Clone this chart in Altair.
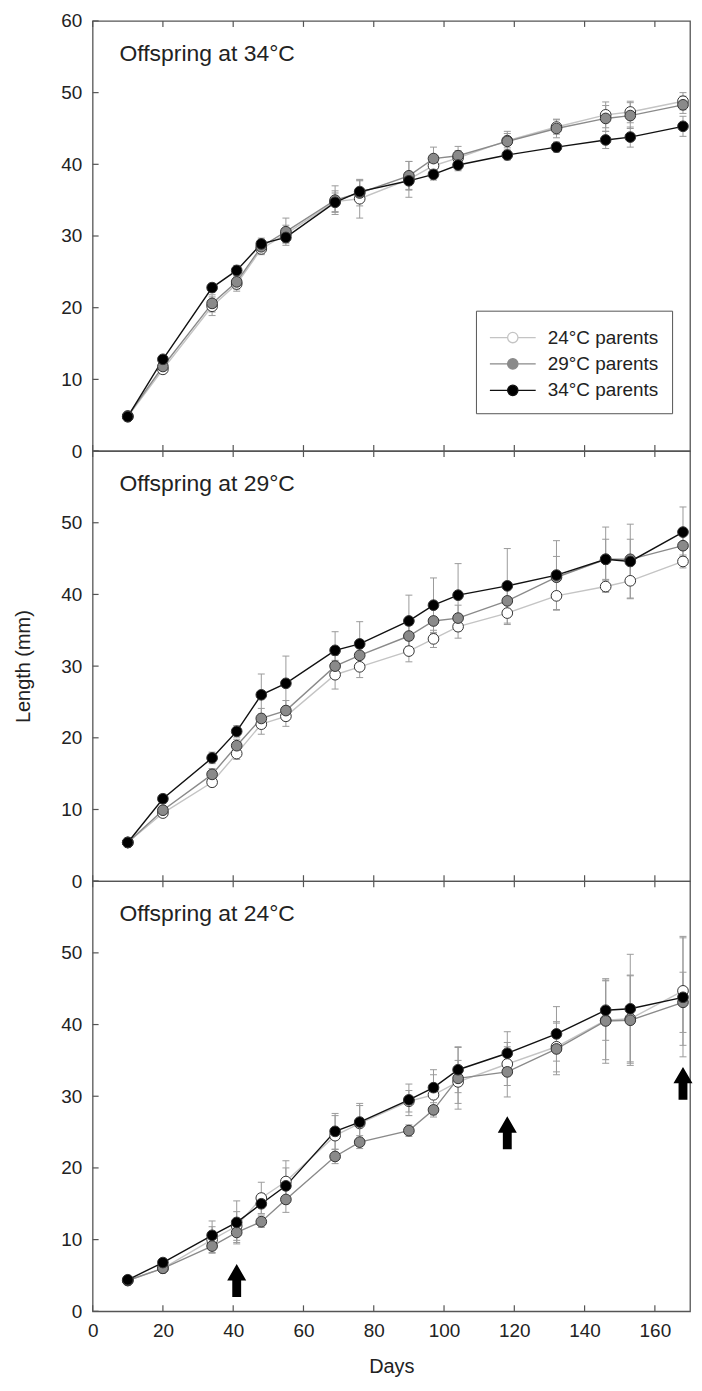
import altair as alt
import pandas as pd

# ---------------- data ----------------
days = [10, 20, 34, 41, 48, 55, 69, 76, 90, 97, 104, 118, 132, 146, 153, 168]
parents = ["24°C parents", "29°C parents", "34°C parents"]
panel_titles = ["Offspring at 34°C", "Offspring at 29°C", "Offspring at 24°C"]

# Offspring at 34°C
o34_p24 = [4.8, 11.4, 20.2, 23.3, 28.2, 30.3, 34.8, 35.2, 37.9, 39.8, 40.9, 43.3, 45.2, 46.9, 47.3, 48.8]
o34_p29 = [4.9, 11.8, 20.6, 23.6, 28.5, 30.6, 35.0, 36.0, 38.4, 40.8, 41.2, 43.2, 45.0, 46.4, 46.8, 48.3]
o34_p34 = [4.8, 12.8, 22.8, 25.2, 28.9, 29.8, 34.7, 36.2, 37.7, 38.6, 39.9, 41.3, 42.4, 43.4, 43.8, 45.3]
o34_se24 = [0.3, 0.5, 1.3, 1.0, 0.8, 1.2, 1.5, 2.7, 2.5, 1.2, 1.0, 1.0, 1.0, 1.8, 1.5, 1.2]
o34_se29 = [0.3, 0.5, 1.2, 1.0, 0.9, 1.9, 2.0, 1.8, 2.0, 1.6, 1.3, 1.4, 1.3, 1.8, 1.8, 1.2]
o34_se34 = [0.3, 0.5, 0.6, 0.7, 0.8, 0.8, 1.3, 1.5, 1.2, 0.8, 0.8, 0.7, 0.7, 1.2, 1.4, 1.4]

# Offspring at 29°C
o29_p24 = [5.4, 9.5, 13.8, 17.8, 21.9, 23.0, 28.8, 29.9, 32.1, 33.8, 35.5, 37.4, 39.8, 41.1, 41.9, 44.6]
o29_p29 = [5.4, 9.9, 14.9, 18.9, 22.7, 23.8, 30.0, 31.5, 34.2, 36.3, 36.7, 39.1, 42.4, 44.9, 44.9, 46.8]
o29_p34 = [5.4, 11.5, 17.2, 20.9, 26.0, 27.6, 32.2, 33.1, 36.3, 38.5, 39.9, 41.2, 42.7, 44.9, 44.6, 48.7]
o29_se24 = [0.3, 0.5, 0.6, 0.8, 1.4, 1.4, 2.0, 1.5, 1.5, 1.2, 1.6, 1.6, 2.0, 0.8, 2.4, 0.9]
o29_se29 = [0.3, 0.5, 0.8, 0.9, 1.4, 1.4, 1.5, 1.2, 1.5, 1.8, 1.8, 1.8, 2.9, 2.8, 2.8, 1.5]
o29_se34 = [0.3, 0.6, 0.8, 0.8, 2.9, 3.8, 2.6, 3.1, 3.6, 3.8, 4.4, 5.2, 4.8, 4.5, 5.2, 3.5]

# Offspring at 24°C
o24_p24 = [4.3, 6.0, 10.0, 11.9, 15.8, 18.1, 24.5, 26.2, 29.3, 30.2, 32.0, 34.5, 36.9, 40.6, 40.8, 44.7]
o24_p29 = [4.3, 6.0, 9.1, 11.0, 12.5, 15.6, 21.6, 23.6, 25.2, 28.1, 32.5, 33.4, 36.6, 40.5, 40.6, 43.1]
o24_p34 = [4.4, 6.8, 10.6, 12.4, 15.0, 17.5, 25.1, 26.4, 29.5, 31.2, 33.7, 36.0, 38.7, 42.0, 42.2, 43.8]
o24_se24 = [0.3, 0.4, 1.8, 2.0, 2.2, 2.9, 2.8, 2.5, 1.5, 2.8, 3.0, 3.0, 3.5, 5.5, 6.0, 7.6]
o24_se29 = [0.3, 0.4, 1.0, 1.4, 0.8, 1.8, 1.0, 0.9, 0.8, 1.0, 4.3, 3.5, 3.6, 5.9, 6.3, 4.2]
o24_se34 = [0.3, 0.4, 2.0, 3.0, 1.4, 2.5, 2.5, 2.6, 2.2, 2.5, 3.2, 3.0, 3.8, 4.2, 7.6, 8.3]

# arrows in the bottom panel (day, mid-height in mm)
arrow_days = [41, 118, 168]
arrow_mid = [4.3, 24.9, 31.8]

x_ticks = [0, 20, 40, 60, 80, 100, 120, 140, 160]
y_ticks = [0, 10, 20, 30, 40, 50, 60]

# ---------------- style ----------------
FONT = "Liberation Sans"
TEXT = "#222222"
FRAME = "#555555"
ERR = "#9a9a9a"
LINE_COLORS = ["#c4c4c4", "#8a8a8a", "#111111"]
FILL_COLORS = ["#ffffff", "#8a8a8a", "#000000"]
W, H = 600, 432
TICK = 6

ARROW_PATH = "M0,-1L0.58,0L0.27,0L0.27,1L-0.27,1L-0.27,0L-0.58,0Z"
# legend glyph: a line segment with a circle on it (symbol size 676 -> unit = 13 px)
LEG_PATH = ("M-1.77,0L-0.4,0M0.4,0L1.77,0M0.4,0A0.4,0.4,0,1,1,-0.4,0"
            "A0.4,0.4,0,1,1,0.4,0Z")

xs = alt.Scale(domain=[0, 170], nice=False, zero=False)
ys = alt.Scale(domain=[0, 60], nice=False, zero=False)

legend = alt.Legend(
    orient="none", legendX=385, legendY=291, title=None,
    symbolType=LEG_PATH, symbolSize=676, symbolStrokeWidth=1.3, symbolOpacity=1,
    symbolOffset=10,
    labelFontSize=19, labelFont=FONT, labelColor=TEXT, labelOffset=21, labelLimit=400,
    padding=13, rowPadding=2.5, strokeColor=FRAME, fillColor="#ffffff",
)


def panel_df(means, ses):
    rows = []
    for p, m, s in zip(parents, means, ses):
        for d, v, e in zip(days, m, s):
            rows.append({"parent": p, "day": d, "length": v, "lo": v - e, "hi": v + e})
    return pd.DataFrame(rows)


def make_panel(df, title, x_axis, y_axis, show_legend=False, arrows=False):
    def X(f):
        return alt.X(f, scale=xs, axis=x_axis)

    def Y(f):
        return alt.Y(f, scale=ys, axis=y_axis)

    stroke_scale = alt.Scale(domain=parents, range=LINE_COLORS)
    fill_scale = alt.Scale(domain=parents, range=FILL_COLORS)
    if show_legend:
        stroke = alt.Stroke("parent:N", scale=stroke_scale, legend=legend)
        fill = alt.Fill("parent:N", scale=fill_scale, legend=legend)
    else:
        stroke = alt.Stroke("parent:N", scale=stroke_scale, legend=None)
        fill = alt.Fill("parent:N", scale=fill_scale, legend=None)

    base = alt.Chart(df)
    err = base.mark_rule(color=ERR, strokeWidth=1).encode(x=X("day:Q"), y=Y("lo:Q"), y2="hi:Q")
    cap_lo = base.mark_rule(color=ERR, strokeWidth=1, xOffset=-3.5, x2Offset=3.5).encode(
        x=X("day:Q"), x2="day:Q", y=Y("lo:Q"))
    cap_hi = base.mark_rule(color=ERR, strokeWidth=1, xOffset=-3.5, x2Offset=3.5).encode(
        x=X("day:Q"), x2="day:Q", y=Y("hi:Q"))
    lines = base.mark_line(strokeWidth=1.4).encode(x=X("day:Q"), y=Y("length:Q"), stroke=stroke)
    pts = base.mark_circle(size=115, opacity=1, stroke="#333333", strokeWidth=1).encode(
        x=X("day:Q"), y=Y("length:Q"), fill=fill)
    xt = alt.Chart(pd.DataFrame({"day": x_ticks}))
    top_t = xt.mark_rule(color=FRAME, strokeWidth=1.2).encode(
        x=X("day:Q"), y=alt.value(0), y2=alt.value(TICK))
    bot_t = xt.mark_rule(color=FRAME, strokeWidth=1.2).encode(
        x=X("day:Q"), y=alt.value(H - TICK), y2=alt.value(H))
    yt = alt.Chart(pd.DataFrame({"length": y_ticks})).mark_rule(color=FRAME, strokeWidth=1.2).encode(
        y=Y("length:Q"), x=alt.value(0), x2=alt.value(TICK))
    lab = alt.Chart(pd.DataFrame({"label": [title]})).mark_text(
        align="left", baseline="middle", fontSize=23, font=FONT, color=TEXT
    ).encode(text="label:N", x=alt.value(27), y=alt.value(33))
    layers = [err, cap_lo, cap_hi, lines, pts, top_t, bot_t, yt, lab]
    if arrows:
        arr = alt.Chart(pd.DataFrame({"day": arrow_days, "length": arrow_mid})).mark_point(
            shape=ARROW_PATH, size=1089, filled=True, color="#000000", opacity=1
        ).encode(x=X("day:Q"), y=Y("length:Q"))
        layers.append(arr)
    return alt.layer(*layers).properties(width=W, height=H)


y_common = dict(ticks=False, domain=False, grid=False, labelPadding=11, labelFlush=False,
                labelOverlap=False)
y_top = alt.Axis(values=y_ticks, title=None, **y_common)
y_mid = alt.Axis(values=y_ticks[:-1], title="Length (mm)", titlePadding=27, **y_common)
y_bot = alt.Axis(values=y_ticks[:-1], title=None, **y_common)
x_bot = alt.Axis(values=x_ticks, title="Days", ticks=False, domain=False, grid=False, labelPadding=10,
                 labelFlush=False, labelOverlap=False, titlePadding=16)

top = make_panel(panel_df([o34_p24, o34_p29, o34_p34], [o34_se24, o34_se29, o34_se34]),
                 panel_titles[0], None, y_top, show_legend=True)
mid = make_panel(panel_df([o29_p24, o29_p29, o29_p34], [o29_se24, o29_se29, o29_se34]),
                 panel_titles[1], None, y_mid)
bot = make_panel(panel_df([o24_p24, o24_p29, o24_p34], [o24_se24, o24_se29, o24_se34]),
                 panel_titles[2], x_bot, y_bot, arrows=True)

chart = (
    alt.vconcat(top, mid, bot, spacing=0, bounds="flush")
    .resolve_scale(fill="independent", stroke="independent")
    .resolve_legend(fill="independent", stroke="independent")
    .properties(padding={"left": 5, "top": 0, "right": 0, "bottom": 0})
    .configure_view(stroke=FRAME, strokeWidth=1.3)
    .configure_axis(labelFont=FONT, titleFont=FONT, labelFontSize=19, titleFontSize=20,
                    labelColor=TEXT, titleColor=TEXT, titleFontWeight="normal", grid=False)
)

chart.save("out.html", embed_options={"renderer": "svg", "actions": False})
